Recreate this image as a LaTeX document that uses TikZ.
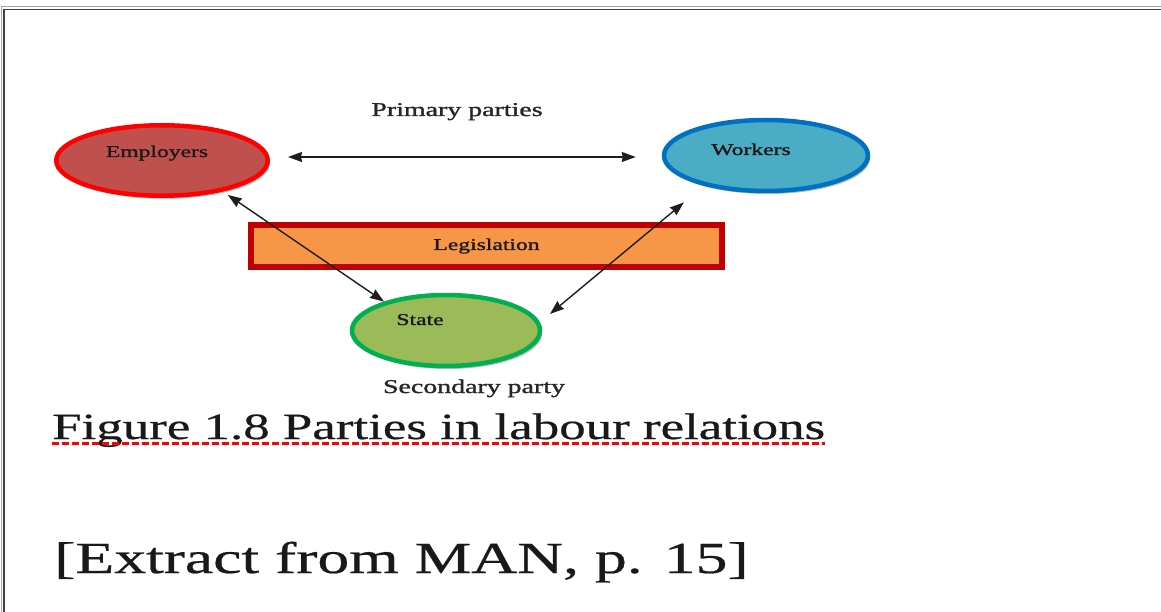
\documentclass[tikz,border=0pt]{standalone}
\usepackage{fontspec}
\setmainfont{Liberation Serif}
\newfontfamily\heavyserif{Liberation Serif}[FakeBold=1.2]
\newfontfamily\titleserif{Liberation Serif}[FakeBold=0.5]
\usepackage{graphicx}
\usetikzlibrary{shapes.geometric,arrows.meta,shadows}

\definecolor{empfill}{HTML}{C0504D}
\definecolor{empline}{HTML}{FF0000}
\definecolor{wrkfill}{HTML}{4BACC6}
\definecolor{wrkline}{HTML}{0070C0}
\definecolor{stafill}{HTML}{9BBB59}
\definecolor{staline}{HTML}{00B050}
\definecolor{lawfill}{HTML}{F79646}
\definecolor{lawline}{HTML}{C00000}
\definecolor{ink}{HTML}{1E1E1E}

% text set slightly wide, as in the printed figure
\newcommand{\widetext}[1]{\scalebox{1.43}[1]{#1}}

\begin{document}
\begin{tikzpicture}[x=1pt,y=-1pt,
  partyshape/.style={ellipse, inner sep=0pt, line width=4.5pt,
    drop shadow={shadow xshift=2pt, shadow yshift=-3pt, fill=black!45, opacity=.6}},
  lawbox/.style={rectangle, inner sep=0pt, line width=6.5pt,
    drop shadow={shadow xshift=2pt, shadow yshift=-3pt, fill=black!45, opacity=.6}},
  lab/.style={inner sep=0pt, anchor=base, text=black!90,
    font=\heavyserif\fontsize{16.5}{18}\selectfont},
  caption/.style={inner sep=0pt, anchor=base, text=black!85,
    font=\heavyserif\fontsize{19.5}{22}\selectfont},
  bigtext/.style={inner sep=0pt, anchor=base west, text=black!90},
  twoway/.style={ink, line width=1.4pt,
    {Stealth[length=14pt,width=10pt,inset=1pt]}-{Stealth[length=14pt,width=10pt,inset=1pt]}}
]
\useasboundingbox (0,0) rectangle (1161,612);
\fill[white] (0,0) rectangle (1161,612);

% page frame
\draw[black!35, line width=1pt] (1.5,612) -- (1.5,7) -- (1161,7);
\draw[black!75, line width=1.6pt] (4,612) -- (4,9.5) -- (1161,9.5);

% parties
\node[partyshape, draw=empline, fill=empfill,
      minimum width=211.5pt, minimum height=70.5pt] (emp) at (162,160.5) {};
\node[partyshape, draw=wrkline, fill=wrkfill,
      minimum width=204pt, minimum height=71pt] (wrk) at (766,155.5) {};
\node[partyshape, draw=staline, fill=stafill,
      minimum width=188pt, minimum height=71pt] (sta) at (446,330.5) {};
\node[lawbox, draw=lawline, fill=lawfill,
      minimum width=471pt, minimum height=42pt] (law) at (486.5,246) {};

% labels inside the shapes
\node[lab] (empt) at ([xshift=-5pt,yshift=3.5pt]emp.center) {\widetext{Employers}};
\node[lab] (wrkt) at ([xshift=-15pt,yshift=0.5pt]wrk.center) {\widetext{Workers}};
\node[lab] (lawt) at ([yshift=-4pt]law.center) {\widetext{Legislation}};
\node[lab] (stat) at ([xshift=-26pt,yshift=5.5pt]sta.center) {\widetext{State}};

% group captions
\node[caption] (prim) at (457,116) {\widetext{Primary parties}};
\node[caption] (seco) at (474,393) {\widetext{Secondary party}};

% relations
\draw[twoway, shorten <=18pt, shorten >=26pt]
  ([yshift=3.5pt]emp.east) -- ([yshift=-1.5pt]wrk.west);
\draw[twoway, shorten <=6pt] (emp.-27) -- (sta.155.7);
\draw[twoway, shorten <=26pt, shorten >=13pt] (wrk.206.6) -- (sta.5.8);

% figure caption and source
\node[bigtext, font=\titleserif\fontsize{37}{40}\selectfont] (fig) at (52,439)
  {\widetext{Figure 1.8 Parties in labour relations}};
\draw[red, line width=2.6pt, dash pattern=on 7pt off 3pt]
  ([yshift=-4.5pt]fig.base west) -- ([yshift=-4.5pt]fig.base east);
\node[bigtext, font=\titleserif\fontsize{44.5}{48}\selectfont] (src) at (54,573)
  {\widetext{[Extract from MAN, p. 15]}};
\end{tikzpicture}
\end{document}
